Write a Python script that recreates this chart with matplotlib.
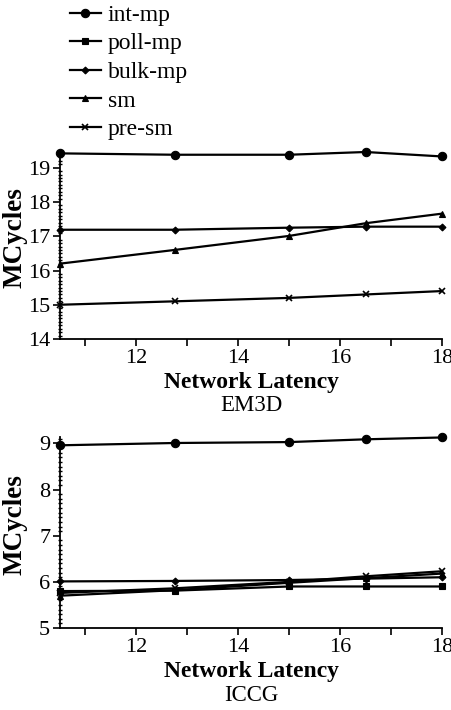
import matplotlib
matplotlib.use("Agg")
import matplotlib.pyplot as plt
from matplotlib.ticker import MultipleLocator

plt.rcParams['font.family'] = ['Liberation Serif', 'DejaVu Serif']

latency = [10.5, 12.75, 15, 16.5, 18]
series_names = ["int-mp", "poll-mp", "bulk-mp", "sm", "pre-sm"]
markers = ["o", "s", "D", "^", "x"]
msizes = [6, 5, 3.5, 5, 5]

# EM3D (poll-mp not shown in this panel)
em3d_int_mp = [19.42, 19.38, 19.38, 19.46, 19.33]
em3d_bulk_mp = [17.19, 17.19, 17.25, 17.28, 17.28]
em3d_sm = [16.2, 16.6, 17.01, 17.38, 17.66]
em3d_pre_sm = [15.0, 15.1, 15.2, 15.3, 15.4]

# ICCG
iccg_int_mp = [8.96, 9.01, 9.03, 9.09, 9.13]
iccg_poll_mp = [5.8, 5.81, 5.9, 5.9, 5.9]
iccg_bulk_mp = [6.01, 6.02, 6.04, 6.07, 6.1]
iccg_sm = [5.7, 5.82, 5.98, 6.08, 6.18]
iccg_pre_sm = [5.76, 5.86, 6.0, 6.12, 6.23]

em3d = {"int-mp": em3d_int_mp, "bulk-mp": em3d_bulk_mp, "sm": em3d_sm, "pre-sm": em3d_pre_sm}
iccg = {"int-mp": iccg_int_mp, "poll-mp": iccg_poll_mp, "bulk-mp": iccg_bulk_mp,
        "sm": iccg_sm, "pre-sm": iccg_pre_sm}

W, H = 451, 710
fig = plt.figure(figsize=(W / 100, H / 100), dpi=100)

def px(l, t, r, b):
    return [l / W, 1 - b / H, (r - l) / W, (b - t) / H]

ax1 = fig.add_axes(px(60, 152, 442, 339))
ax2 = fig.add_axes(px(60, 437, 442, 628))

handles = {}
def draw(ax, data, ylo, yhi, major, title):
    for name, mk, ms in zip(series_names, markers, msizes):
        if name not in data:
            continue
        ln, = ax.plot(latency, data[name], color="black", lw=1.6, marker=mk,
                      markersize=ms, markeredgewidth=1.2 if mk == "x" else 0.8,
                      clip_on=False, zorder=3, label=name)
        handles[name] = ln
    ax.set_xlim(10.5, 18)
    ax.set_ylim(ylo, yhi)
    ax.xaxis.set_major_locator(MultipleLocator(2))
    ax.xaxis.set_minor_locator(MultipleLocator(1))
    ax.yaxis.set_major_locator(MultipleLocator(major))
    ax.yaxis.set_minor_locator(MultipleLocator(0.1))
    for s in ["top", "right"]:
        ax.spines[s].set_visible(False)
    for s in ["left", "bottom"]:
        ax.spines[s].set_linewidth(1.3)
    ax.tick_params(axis="both", which="major", direction="out", length=5, width=1.2,
                   labelsize=16, pad=2)
    ax.tick_params(axis="x", which="minor", direction="out", length=5, width=1.2)
    ax.tick_params(axis="y", which="minor", direction="inout", length=3, width=1.0)
    ax.set_ylabel("MCycles", fontsize=19.5, fontweight="bold")
    ax.yaxis.set_label_coords(-0.084, 0.54)
    ax.set_xlabel("Network Latency", fontsize=17, fontweight="bold", labelpad=3)
    ax.text(0.5, -0.355, title, transform=ax.transAxes, ha="center", va="center",
            fontsize=16.5)

draw(ax1, em3d, 14, 19.46, 1, "EM3D")
draw(ax2, iccg, 5, 9.14, 1, "ICCG")

fig.legend([handles[n] for n in series_names], series_names, loc="upper left",
           bbox_to_anchor=(70 / W, 0.994), frameon=False, fontsize=17,
           handlelength=1.3, handletextpad=0.3, labelspacing=0.3,
           borderpad=0.0, borderaxespad=0.0)

fig.savefig("out.png", dpi=100)
